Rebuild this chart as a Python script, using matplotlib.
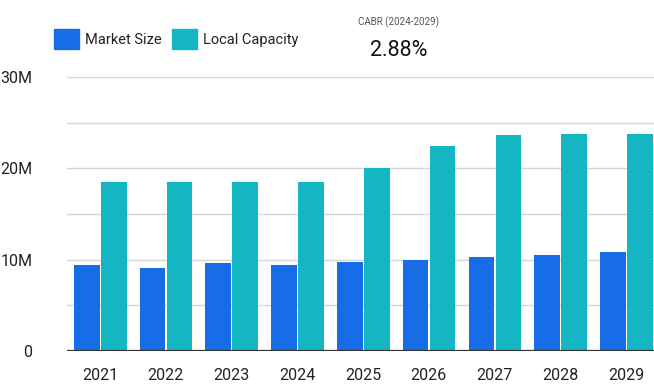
import matplotlib
matplotlib.use("Agg")
import matplotlib.pyplot as plt
import numpy as np
from matplotlib.patches import Rectangle

years = ["2021", "2022", "2023", "2024", "2025", "2026", "2027", "2028", "2029"]
market_size = [9.4, 9.05, 9.6, 9.4, 9.75, 9.97, 10.3, 10.5, 10.85]   # millions
local_capacity = [18.5, 18.5, 18.5, 18.5, 20.0, 22.5, 23.6, 23.8, 23.8]  # millions
y_ticks = [0, 10, 20, 30]
y_labels = ["0", "10M", "20M", "30M"]
series_names = ["Market Size", "Local Capacity"]
cagr_label = "CABR (2024-2029)"
cagr_value = "2.88%"

c_ms = "#176ce8"
c_lc = "#13b6c2"

plt.rcParams['font.family'] = ['Roboto', 'DejaVu Sans']

W, H = 654, 387
fig = plt.figure(figsize=(W / 100, H / 100), dpi=100)
fig.patch.set_facecolor("white")
ax = fig.add_axes([67 / W, (H - 351) / H, (654 - 67) / W, (351 - 77) / H])

x = np.arange(len(years))
bw = 0.39
ax.bar(x - 0.2, market_size, width=bw, color=c_ms, zorder=3)
ax.bar(x + 0.21, local_capacity, width=bw, color=c_lc, zorder=3)

ax.set_xlim(-0.5, 8.5 - 5 / 65.75)
ax.set_ylim(0, 30)
for g in [5, 10, 15, 20, 25, 30]:
    ax.axhline(g, color="#d6d6d6", lw=1, zorder=1)
ax.axhline(0, color="#333333", lw=1.6, zorder=4)

ax.set_yticks(y_ticks)
ax.set_yticklabels(y_labels)
ax.set_xticks(x)
ax.set_xticklabels(years)
ax.tick_params(axis="both", length=0, labelsize=11.5, colors="#222222")
ax.tick_params(axis="y", pad=25)
ax.tick_params(axis="x", pad=12)
for s in ax.spines.values():
    s.set_visible(False)

def fx(px):
    return px / W

def fy(py):
    return 1 - py / H

fig.patches.append(Rectangle((fx(54), fy(49)), 25 / W, 20 / H, transform=fig.transFigure,
                             color=c_ms, zorder=5))
fig.text(fx(85), fy(40), series_names[0], fontsize=10.5, va="center", ha="left", color="#222222")
fig.patches.append(Rectangle((fx(172), fy(49)), 25 / W, 20 / H, transform=fig.transFigure,
                             color=c_lc, zorder=5))
fig.text(fx(203), fy(40), series_names[1], fontsize=10.5, va="center", ha="left", color="#222222")

fig.text(fx(399), fy(22), cagr_label, fontsize=7, ha="center", va="center", color="#555555")
fig.text(fx(399), fy(51), cagr_value, fontsize=15.5, ha="center", va="center", color="#111111")

fig.savefig("out.png", dpi=100, facecolor="white")
